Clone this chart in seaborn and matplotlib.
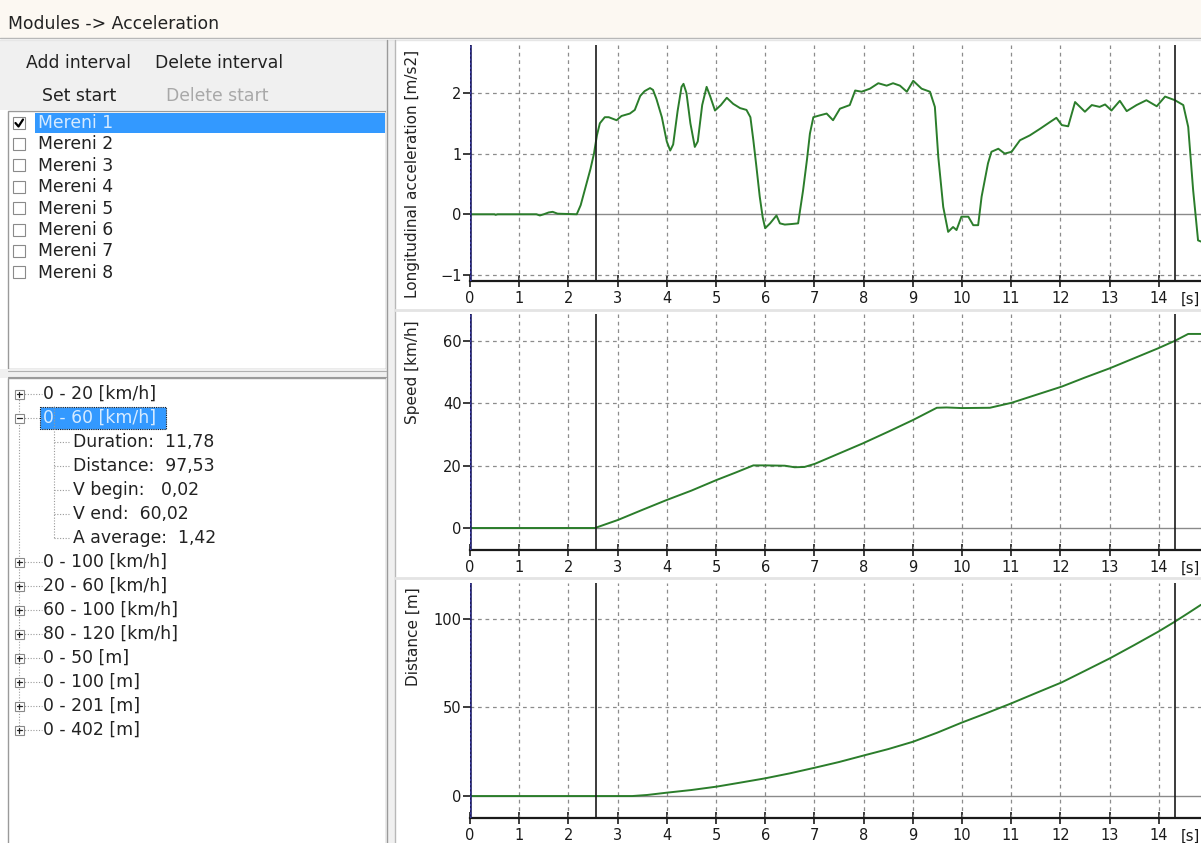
import numpy as np
import pandas as pd
import matplotlib
matplotlib.use("Agg")
import matplotlib.pyplot as plt
import seaborn as sns
from matplotlib.patches import Rectangle

# ---------------- data ----------------
acc_t = [0, 0.5, 0.52, 0.56, 1.35, 1.42, 1.5, 1.6, 1.68, 1.78, 2.17, 2.25, 2.35, 2.45, 2.52, 2.58,
         2.64, 2.74, 2.82, 2.98, 3.08, 3.25, 3.35, 3.46, 3.55, 3.66, 3.72, 3.79, 3.9, 4.0, 4.07,
         4.13, 4.22, 4.3, 4.34, 4.4, 4.48, 4.57, 4.63, 4.72, 4.81, 4.88, 4.98, 5.1, 5.22, 5.35,
         5.49, 5.62, 5.7, 5.76, 5.82, 5.89, 5.95, 6.0, 6.1, 6.23, 6.3, 6.4, 6.55, 6.67, 6.77,
         6.85, 6.91, 6.98, 7.11, 7.25, 7.38, 7.52, 7.72, 7.83, 7.96, 8.13, 8.3, 8.47, 8.6, 8.74,
         8.88, 9.01, 9.18, 9.35, 9.45, 9.52, 9.62, 9.72, 9.82, 9.89, 9.99, 10.13, 10.23, 10.33,
         10.4, 10.53, 10.6, 10.74, 10.87, 11.01, 11.18, 11.38, 11.59, 11.79, 11.92, 12.03, 12.16,
         12.3, 12.5, 12.64, 12.8, 12.91, 13.04, 13.21, 13.35, 13.55, 13.75, 13.96, 14.13, 14.33,
         14.5, 14.6, 14.7, 14.8, 14.86]
acc_v = [0, 0, -0.01, 0, 0, -0.02, 0, 0.03, 0.04, 0.01, 0.0, 0.15, 0.45, 0.75, 1.0, 1.3,
         1.5, 1.6, 1.6, 1.55, 1.62, 1.66, 1.72, 1.95, 2.03, 2.08, 2.05, 1.9, 1.6, 1.2, 1.05,
         1.15, 1.7, 2.1, 2.15, 2.0, 1.5, 1.11, 1.2, 1.8, 2.1, 1.95, 1.71, 1.8, 1.92, 1.82,
         1.75, 1.72, 1.6, 1.22, 0.8, 0.29, -0.05, -0.23, -0.15, -0.02, -0.15, -0.17, -0.16, -0.15, 0.39,
         0.9, 1.33, 1.6, 1.63, 1.66, 1.55, 1.74, 1.8, 2.04, 2.02, 2.07, 2.16, 2.12, 2.16, 2.12,
         2.02, 2.2, 2.07, 2.02, 1.77, 0.94, 0.12, -0.29, -0.21, -0.26, -0.04, -0.04, -0.18, -0.18,
         0.29, 0.84, 1.03, 1.08, 1.0, 1.03, 1.22, 1.3, 1.41, 1.52, 1.59, 1.47, 1.45,
         1.85, 1.69, 1.8, 1.77, 1.81, 1.71, 1.87, 1.7, 1.8, 1.88, 1.78, 1.94, 1.88,
         1.8, 1.44, 0.4, -0.43, -0.45]

speed_t = [0, 2.54, 3.01, 3.5, 4.0, 4.5, 5.01, 5.4, 5.76, 6.0, 6.4, 6.6, 6.8, 7.01, 7.5, 7.99,
           8.5, 9.01, 9.49, 9.69, 10.0, 10.57, 11.01, 11.5, 12.03, 12.5, 13.01, 13.5, 13.99,
           14.33, 14.6, 14.86]
speed_v = [0, 0, 2.6, 5.8, 9.0, 12.0, 15.4, 17.8, 20.1, 20.1, 20.0, 19.5, 19.6, 20.6, 23.9, 27.2,
           30.9, 34.7, 38.6, 38.7, 38.5, 38.6, 40.2, 42.7, 45.4, 48.3, 51.3, 54.5, 57.7,
           60.1, 62.3, 62.3]

dist_t = [0, 3.3, 3.6, 4.0, 4.5, 5.01, 5.5, 6.0, 6.5, 7.01, 7.5, 7.99, 8.5, 9.01, 9.5, 9.99,
          10.5, 11.01, 11.5, 12.03, 12.5, 13.01, 13.5, 13.99, 14.33, 14.6, 14.86]
dist_v = [0, 0, 0.6, 1.9, 3.4, 5.3, 7.6, 10.0, 12.8, 16.0, 19.2, 22.8, 26.5, 30.7, 35.8, 41.4,
          46.8, 52.4, 58.1, 64.2, 70.7, 77.8, 85.2, 92.8, 98.5, 103.3, 108.0]

x_ticks = list(range(0, 15))
acc_yticks = [-1, 0, 1, 2]
speed_yticks = [0, 20, 40, 60]
dist_yticks = [0, 50, 100]
cursor_t = [2.56, 14.33]

list_items = ["Mereni 1", "Mereni 2", "Mereni 3", "Mereni 4",
              "Mereni 5", "Mereni 6", "Mereni 7", "Mereni 8"]
tree_top = ["0 - 20 [km/h]", "0 - 60 [km/h]"]
tree_children = ["Duration:  11,78", "Distance:  97,53", "V begin:   0,02",
                 "V end:  60,02", "A average:  1,42"]
tree_rest = ["0 - 100 [km/h]", "20 - 60 [km/h]", "60 - 100 [km/h]", "80 - 120 [km/h]",
             "0 - 50 [m]", "0 - 100 [m]", "0 - 201 [m]", "0 - 402 [m]"]

# ---------------- figure ----------------
sns.set_theme(style="white")
plt.rcParams["font.family"] = ["DejaVu Sans"]
W, H = 1201, 843
fig = plt.figure(figsize=(W / 100, H / 100), dpi=100)
fig.patch.set_facecolor("white")

bg = fig.add_axes([0, 0, 1, 1])
bg.set_xlim(0, W)
bg.set_ylim(H, 0)
bg.axis("off")

UI_FS = 12.4
TXT = "#222222"
# title bar
bg.add_patch(Rectangle((0, 0), W, 38, facecolor="#fcf8f2", edgecolor="none"))
bg.plot([0, W], [38, 38], color="#b8b8b8", lw=1)
bg.plot([0, W], [40, 40], color="#e6e6e6", lw=1)
bg.text(8, 24, "Modules -> Acceleration", fontsize=UI_FS, va="center", ha="left", color=TXT)

# button area
bg.add_patch(Rectangle((0, 40), 386, 70, facecolor="#f0f0f0", edgecolor="none"))
bg.text(26, 63, "Add interval", fontsize=UI_FS, va="center", color=TXT)
bg.text(155, 63, "Delete interval", fontsize=UI_FS, va="center", color=TXT)
bg.text(42, 96, "Set start", fontsize=UI_FS, va="center", color=TXT)
bg.text(166, 96, "Delete start", fontsize=UI_FS, va="center", color="#a8a8a8")

# list box
bg.add_patch(Rectangle((8, 111), 378, 258, facecolor="white", edgecolor="#9a9a9a", lw=1))
row_h = 21.4
for i, name in enumerate(list_items):
    yc = 123 + i * row_h
    if i == 0:
        bg.add_patch(Rectangle((35, yc - 10), 350, 20, facecolor="#3399ff", edgecolor="none"))
        col = "#d6ebff"
    else:
        col = TXT
    bg.add_patch(Rectangle((13, yc - 6.5), 12, 12, facecolor="white", edgecolor="#8a8a8a", lw=0.8))
    if i == 0:
        bg.plot([15.5, 18.5, 23], [yc, yc + 3.5, yc - 3.5], color="black", lw=1.6)
    bg.text(38, yc, name, fontsize=UI_FS, va="center", color=col)

# splitter
bg.add_patch(Rectangle((0, 369), 386, 9, facecolor="#f0f0f0", edgecolor="none"))
bg.plot([8, 386], [371, 371], color="#b0b0b0", lw=0.8)
bg.plot([8, 386], [377, 377], color="#9a9a9a", lw=0.8)

# tree
bg.add_patch(Rectangle((8, 378), 378, 470, facecolor="white", edgecolor="#9a9a9a", lw=1))
step = 24
y0 = 394
rows = [("top", tree_top[0]), ("open", tree_top[1])]
rows += [("child", c) for c in tree_children]
rows += [("top", r) for r in tree_rest]
last_top_y = y0 + (len(rows) - 1) * step
DOT = (0, (1, 1.5))
bg.plot([19, 19], [y0, last_top_y], color="#9a9a9a", lw=0.8, ls=DOT)
for i, (kind, txt) in enumerate(rows):
    yc = y0 + i * step
    if kind in ("top", "open"):
        bg.plot([19, 42], [yc, yc], color="#9a9a9a", lw=0.8, ls=DOT)
        bg.add_patch(Rectangle((14.5, yc - 4.5), 9, 9, facecolor="white", edgecolor="#8a8a8a", lw=0.8, zorder=3))
        bg.plot([16.5, 21.5], [yc, yc], color=TXT, lw=0.9, zorder=4)
        if kind == "top":
            bg.plot([19, 19], [yc - 2.5, yc + 2.5], color=TXT, lw=0.9, zorder=4)
            bg.text(43, yc, txt, fontsize=UI_FS, va="center", color=TXT)
        else:
            bg.add_patch(Rectangle((40, yc - 11), 126, 22, facecolor="#3399ff",
                                   edgecolor="#1a1a1a", lw=0.8, ls=(0, (1, 1))))
            bg.text(43, yc, txt, fontsize=UI_FS, va="center", color="#d6ebff")
    else:
        bg.plot([54, 70], [yc, yc], color="#9a9a9a", lw=0.8, ls=DOT)
        bg.text(73, yc, txt, fontsize=UI_FS, va="center", color=TXT)
bg.plot([54, 54], [y0 + 12, y0 + 6 * step], color="#9a9a9a", lw=0.8, ls=DOT)

# divider between panels
bg.add_patch(Rectangle((386, 40), 9, H - 40, facecolor="#f0f0f0", edgecolor="none"))
bg.plot([386.5, 386.5], [40, H], color="#9a9a9a", lw=1)
bg.plot([394.5, 394.5], [40, H], color="#b8b8b8", lw=1)
for ysep in [310, 578]:
    bg.plot([395, W], [ysep, ysep], color="#e4e4e4", lw=2)

# ---------------- charts ----------------
def px_axes(left, top, right, bottom):
    return fig.add_axes([left / W, 1 - bottom / H, (right - left) / W, (bottom - top) / H])

GREEN = "#2b7d2b"
XMAX = 14.86
panels = [
    dict(box=(470, 45, 1201, 281), ylim=(-1.1, 2.79), yt=acc_yticks,
         t=acc_t, v=acc_v, label="Longitudinal acceleration [m/s2]", ltop=50),
    dict(box=(470, 314, 1201, 550), ylim=(-7.06, 68.7), yt=speed_yticks,
         t=speed_t, v=speed_v, label="Speed [km/h]", ltop=320),
    dict(box=(470, 583, 1201, 818), ylim=(-12.4, 120.3), yt=dist_yticks,
         t=dist_t, v=dist_v, label="Distance [m]", ltop=587),
]
for p in panels:
    ax = px_axes(*p["box"])
    ax.set_facecolor("none")
    df = pd.DataFrame({"t": p["t"], "v": p["v"]})
    sns.lineplot(data=df, x="t", y="v", ax=ax, color=GREEN, lw=1.4, zorder=5)
    ax.set_xlim(0, XMAX)
    ax.set_ylim(*p["ylim"])
    ax.set_xticks(x_ticks)
    ax.set_yticks(p["yt"])
    ax.set_xlabel("")
    ax.set_ylabel("")
    for xv in x_ticks[1:]:
        ax.axvline(xv, color="#8c8c8c", lw=0.9, ls=(0, (3, 3)), zorder=1)
    for yv in p["yt"]:
        if yv == 0:
            ax.axhline(0, color="#8a8a8a", lw=1.0, zorder=2)
        else:
            ax.axhline(yv, color="#8c8c8c", lw=0.9, ls=(0, (3, 3)), zorder=1)
    for c in cursor_t:
        ax.axvline(c, color="#1a1a1a", lw=1.2, zorder=6)
    ax.axvline(0, color="#1c1c5c", lw=2.6, zorder=7)
    ax.axvline(0, color="#3a3aa0", lw=1.0, ls=(0, (1.5, 1.5)), zorder=8)
    for s in ["top", "right", "left"]:
        ax.spines[s].set_visible(False)
    ax.spines["bottom"].set_color("#1a1a1a")
    ax.spines["bottom"].set_linewidth(1.6)
    ax.tick_params(axis="x", direction="inout", length=9, width=1.2, colors="#1a1a1a",
                   labelsize=10.5, pad=3, bottom=True)
    ax.tick_params(axis="y", direction="out", length=5, width=1.2, colors="#1a1a1a",
                   labelsize=10.5, pad=1, left=True)
    ax.annotate("[s]", xy=(XMAX - 0.02, 0), xycoords=ax.get_xaxis_transform(),
                xytext=(0, -7.5), textcoords="offset points", fontsize=10.5,
                va="top", ha="right", color="#1a1a1a", annotation_clip=False)
    bg.text(413, p["ltop"], p["label"], rotation=90, fontsize=11, va="top", ha="center",
            color=TXT)

fig.savefig("out.png", dpi=100)
